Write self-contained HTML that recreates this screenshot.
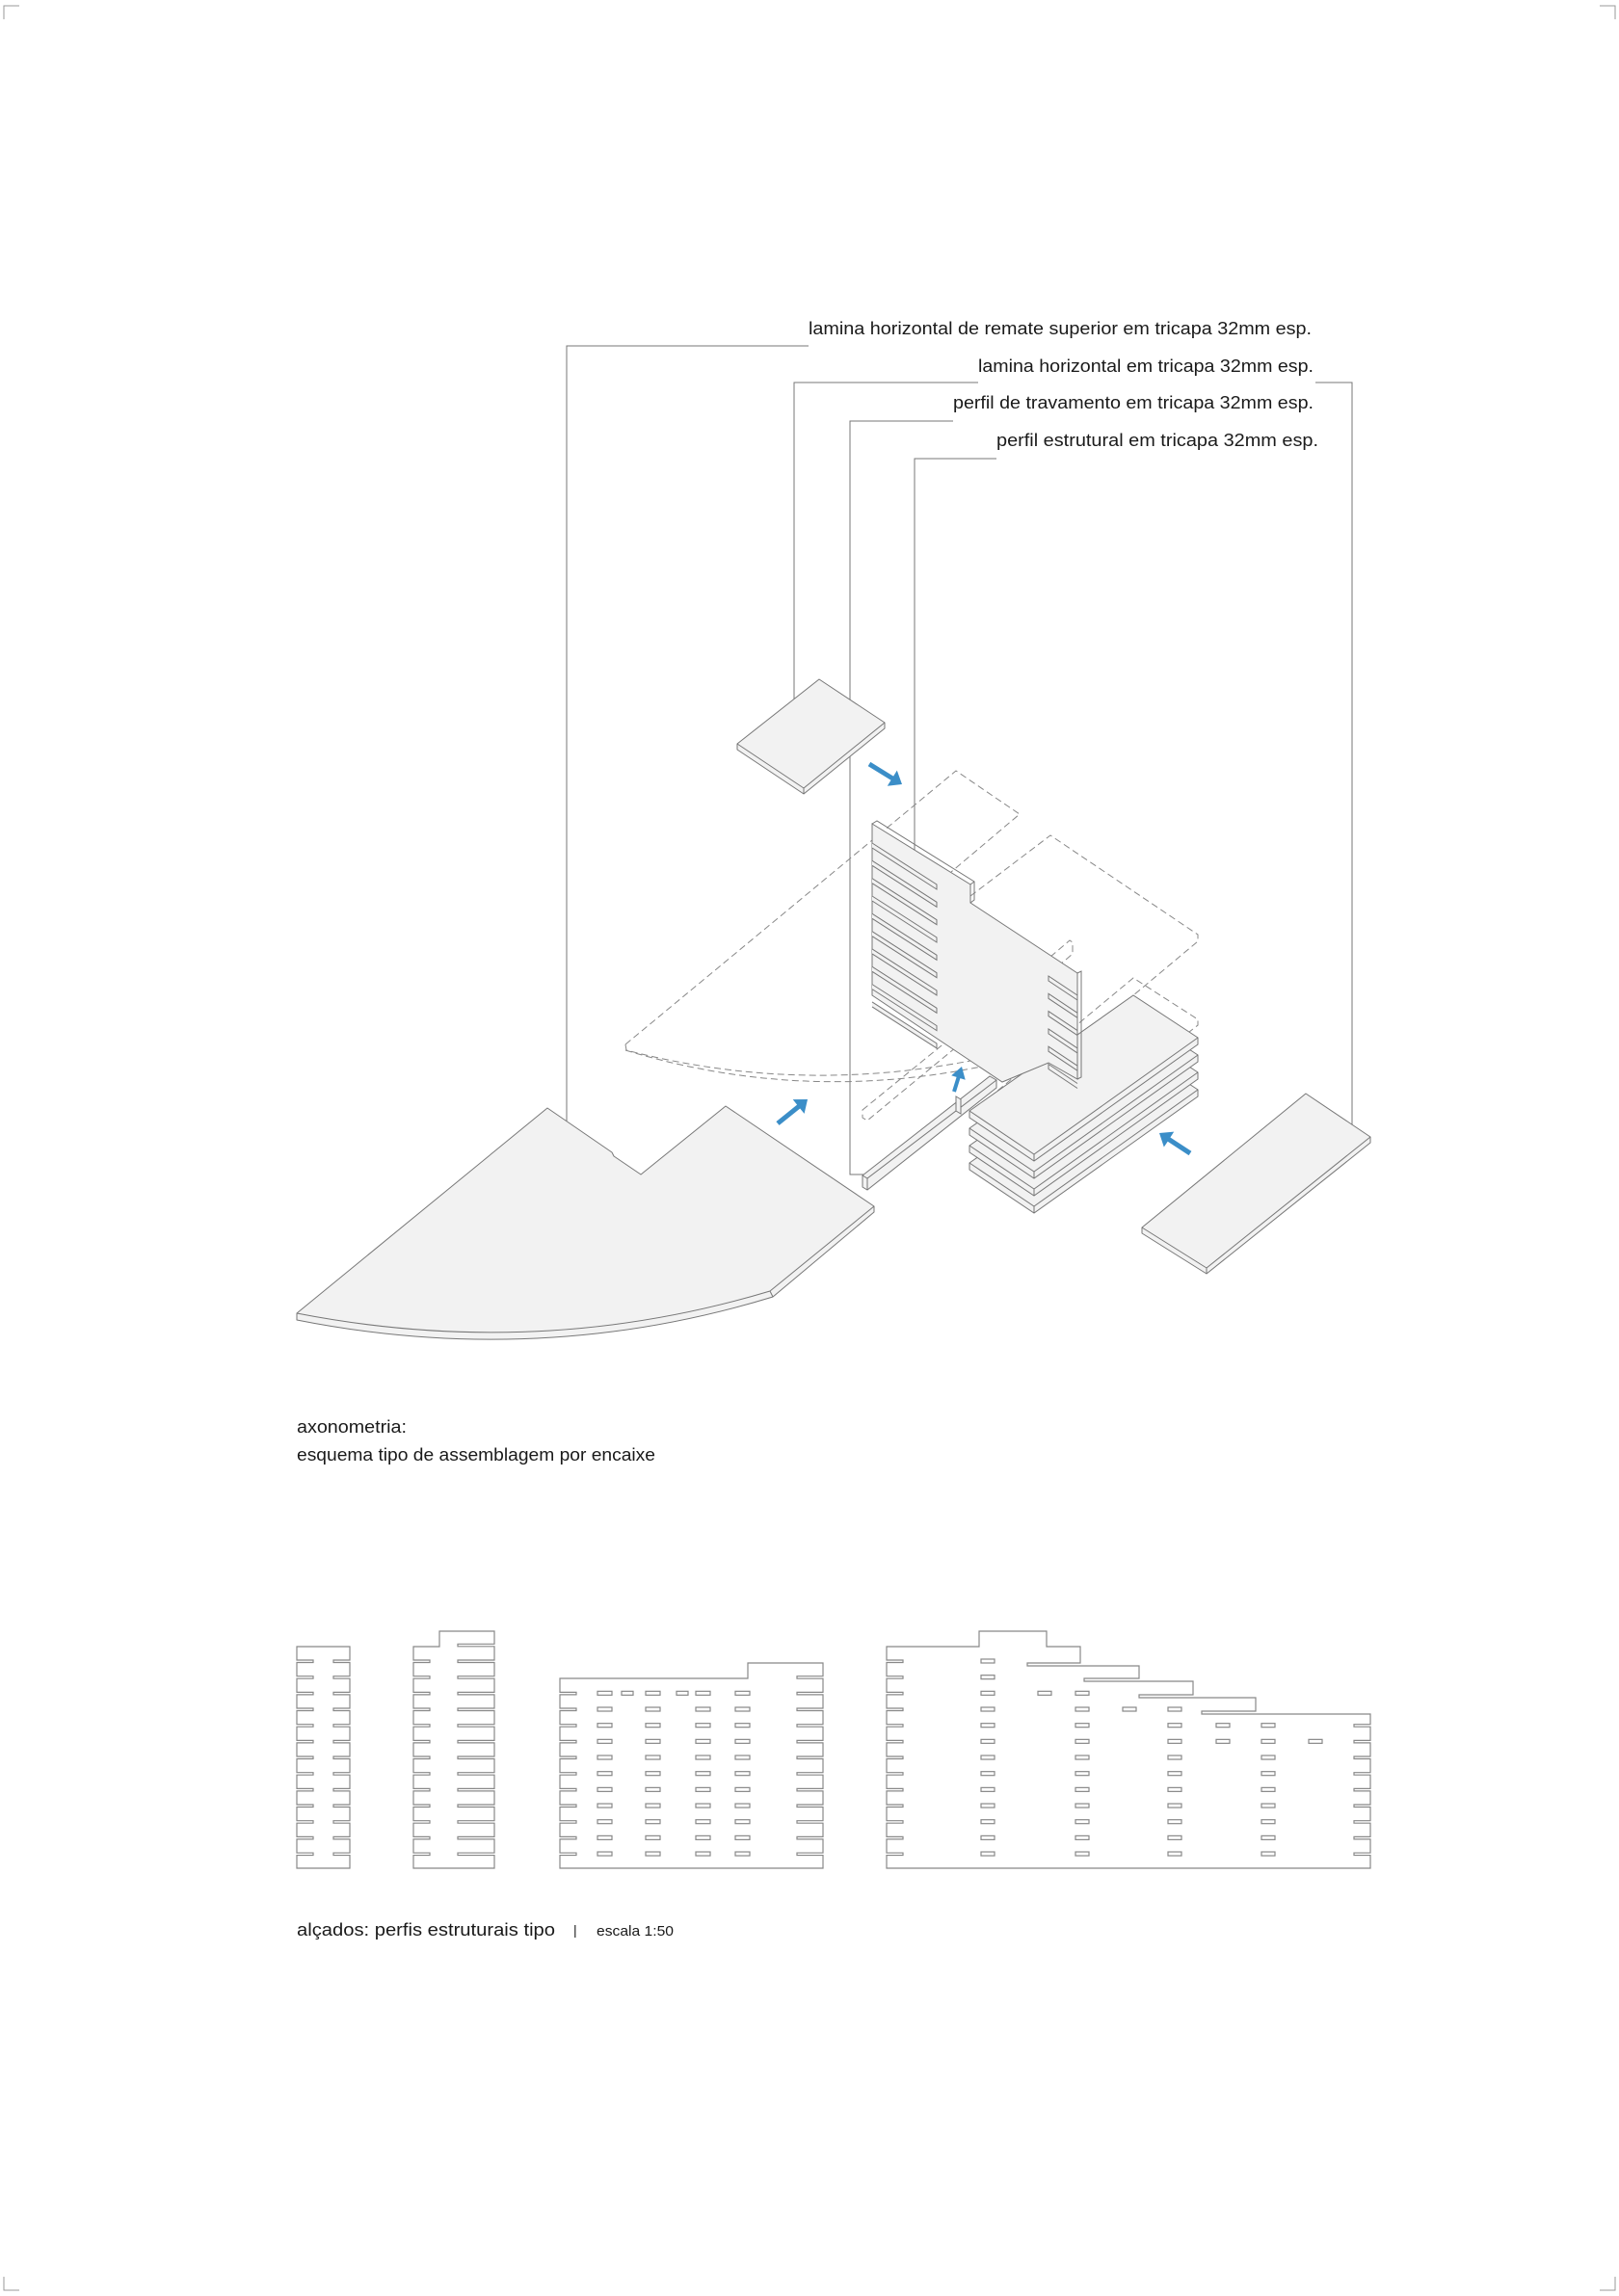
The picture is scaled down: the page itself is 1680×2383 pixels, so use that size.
<!DOCTYPE html>
<html><head><meta charset="utf-8"><style>
html,body{margin:0;padding:0;background:#fff}
svg{display:block}
text{font-family:"Liberation Sans",sans-serif;fill:#1a1a1a}
</style></head><body>
<svg id="s" width="1680" height="2383" viewBox="0 0 1680 2383" xmlns="http://www.w3.org/2000/svg">
<g stroke="#999" stroke-width="1" fill="none">
<path d="M4 20V6H20"/><path d="M1660 6H1676V20"/><path d="M4 2363V2377H20"/><path d="M1660 2377H1676V2363"/>
</g>
<g font-size="18.5">
<text x="1361" y="347" text-anchor="end" textLength="522" lengthAdjust="spacingAndGlyphs">lamina horizontal de remate superior  em tricapa 32mm esp.</text>
<text x="1363" y="386" text-anchor="end" textLength="348" lengthAdjust="spacingAndGlyphs">lamina horizontal em tricapa 32mm esp.</text>
<text x="1363" y="424" text-anchor="end" textLength="374" lengthAdjust="spacingAndGlyphs">perfil de travamento em tricapa 32mm esp.</text>
<text x="1368" y="463" text-anchor="end" textLength="334" lengthAdjust="spacingAndGlyphs">perfil estrutural em tricapa 32mm esp.</text>
</g>
<g stroke="#777" stroke-width="1" fill="none">
<path d="M839 359H588V1187"/>
<path d="M1015 397H824V750"/>
<path d="M1365 397H1403V1180"/>
<path d="M989 437H882V1219H902"/>
<path d="M1034 476H949V891"/>
</g>
<g stroke="#888" stroke-width="1" fill="none" stroke-dasharray="7,4">
<path d="M649 1084L992 800L1058 845L987 905"/>
<path d="M649 1084L650 1090Q880 1150 1118 1072"/>
<path d="M649 1090Q880 1160 1118 1080"/>
<path d="M1007 930L1090 867L1243 970L1243 977L1120 1080"/>
<path d="M1010 1153L1176 1015L1243 1058L1243 1064L1073 1198"/>
<path d="M895 1152L987 1077L992 1080L992 1087L900 1163L895 1160Z"/>
<path d="M1090 993L1110 976L1113 978L1113 990L1092 1008"/>
</g>
<g id="solid" stroke="#777" stroke-width="1" fill="#f2f2f2" stroke-linejoin="round">
<path d="M765 772L850 705L918 750L918 756L834 824L765 778Z"/>
<path d="M765 772L834 818L918 750M834 818V824" fill="none"/>
<path d="M308 1363L568 1150L635 1196L637 1200L665 1219L753 1148L907 1252L907 1258L802 1346Q560 1420 308 1370Z"/>
<path d="M308 1363Q560 1412 799 1340L907 1252M799 1340L802 1346" fill="none"/>
<path d="M1185 1274L1355 1135L1422 1180L1422 1186L1252 1322L1185 1280Z"/>
<path d="M1185 1274L1252 1316L1422 1180M1252 1316V1322" fill="none"/>
</g>
<g id="slabs"></g>
<g id="panel"></g>
<g stroke="#777" stroke-width="1" fill="#f2f2f2">
<path d="M895 1220L1027 1117L1034 1121L1034 1129L900 1235L895 1232Z"/>
<path d="M895 1220L900 1223L1034 1121M900 1223V1235" fill="none"/>
<path d="M992 1138V1153L997 1156V1141Z"/>
</g>
<g fill="#3b8ec8" stroke="none" id="arrows"></g>
<g font-size="18.5">
<text x="308" y="1487" textLength="114" lengthAdjust="spacingAndGlyphs">axonometria:</text>
<text x="308" y="1516" textLength="372" lengthAdjust="spacingAndGlyphs">esquema tipo de assemblagem por encaixe</text>
<text x="308" y="2009" textLength="268" lengthAdjust="spacingAndGlyphs">alçados:  perfis estruturais tipo</text>
<text x="595" y="2008" font-size="14">|</text>
<text x="619" y="2009" font-size="15" textLength="80" lengthAdjust="spacingAndGlyphs">escala 1:50</text>
</g>
<g id="elev" stroke="#888" stroke-width="1.2" fill="none"></g>
</svg>
<script>
var NS="http://www.w3.org/2000/svg";
function el(p,t,a){var e=document.createElementNS(NS,t);for(var k in a)e.setAttribute(k,a[k]);p.appendChild(e);return e;}
var sl=document.getElementById('slabs');
for(var i=3;i>=0;i--){var o=i*18;
 var d="M1006 "+(1153+o)+"L1176 "+(1033+o)+"L1243 "+(1077+o)+"L1243 "+(1084+o)+"L1073 "+(1205+o)+"L1006 "+(1160+o)+"Z";
 el(sl,'path',{d:d,stroke:'#777',fill:'#f2f2f2'});
 el(sl,'path',{d:"M1006 "+(1153+o)+"L1073 "+(1198+o)+"L1243 "+(1077+o)+"M1073 "+(1198+o)+"V"+(1205+o),stroke:'#777',fill:'none'});
}
var pn=document.getElementById('panel');
el(pn,'path',{d:"M905 855L1007 918L1007 937L1118 1010L1118 1120L1088 1103L1040 1123L905 1033Z",stroke:'#777',fill:'#f2f2f2'});
el(pn,'path',{d:"M905 855L910 852L1011 915L1011 934L1007 937M1007 918L1011 915M1118 1010L1122 1008L1122 1118L1118 1120",stroke:'#777',fill:'none'});
for(var k=0;k<10;k++){var y=875+18.33*k;
 el(pn,'path',{d:"M905 "+y+"L972 "+(y+43)+"L972 "+(y+48)+"L905 "+(y+5),stroke:'#777',fill:'#f2f2f2'});}
for(var k=0;k<6;k++){var y=1013+18.3*k;
 el(pn,'path',{d:"M1118 "+(y+20)+"L1088 "+y+"L1088 "+(y+5)+"L1118 "+(y+25),stroke:'#777',fill:'none'});}
var ar=document.getElementById('arrows');
function arrow(x1,y1,x2,y2,w){var dx=x2-x1,dy=y2-y1,L=Math.hypot(dx,dy),ux=dx/L,uy=dy/L,px=-uy,py=ux,h=12,hw=w*1.9;
 var bx=x2-ux*h,by=y2-uy*h;
 var pts=[[x1+px*w/2,y1+py*w/2],[bx+px*w/2,by+py*w/2],[bx+px*hw,by+py*hw],[x2,y2],[bx-px*hw,by-py*hw],[bx-px*w/2,by-py*w/2],[x1-px*w/2,y1-py*w/2]];
 el(ar,'polygon',{points:pts.map(function(p){return p[0].toFixed(1)+","+p[1].toFixed(1)}).join(" ")});}
arrow(902,793,936,814,5);
arrow(807,1166,838,1141,5);
arrow(990,1133,998,1107,4);
arrow(1235,1197,1203,1176,5);
var ev=document.getElementById('elev');
var R=16.67, N0=1723;
function outline(x0,x1,tops,nrows,lw,rw){
 var d="M"+x0+" 1939";
 var ys=[];for(var i=nrows-1;i>=0;i--)ys.push(N0+R*i);
 ys.forEach(function(y){d+="L"+x0+" "+(y+2.5)+"L"+(x0+lw)+" "+(y+2.5)+"L"+(x0+lw)+" "+y+"L"+x0+" "+y;});
 d+="L"+x0+" "+tops[0][1];
 for(var i=1;i<tops.length;i++){d+="L"+tops[i][0]+" "+tops[i-1][1]+"L"+tops[i][0]+" "+tops[i][1];}
 d+="L"+x1+" "+tops[tops.length-1][1];
 var ys2=[];for(var i=0;i<nrows;i++)ys2.push(N0+R*i);
 ys2.forEach(function(y){d+="L"+x1+" "+y+"L"+(x1-rw)+" "+y+"L"+(x1-rw)+" "+(y+2.5)+"L"+x1+" "+(y+2.5);});
 d+="L"+x1+" 1939Z";
 el(ev,'path',{d:d});
}
outline(308,363,[[308,1709]],13,17,17);
(function(){var x0=429,x1=513,d="M"+x0+" 1939";
 for(var i=12;i>=0;i--){var y=N0+R*i;d+="L"+x0+" "+(y+2.5)+"L"+(x0+17)+" "+(y+2.5)+"L"+(x0+17)+" "+y+"L"+x0+" "+y;}
 d+="L429 1709L456 1709L456 1693L513 1693";
 for(var i=-1;i<13;i++){var y=N0+R*i;d+="L"+x1+" "+y+"L475 "+y+"L475 "+(y+2.5)+"L"+x1+" "+(y+2.5);}
 d+="L513 1939Z";el(ev,'path',{d:d});})();
(function(){var x0=581,x1=854,d="M"+x0+" 1939";
 for(var i=12;i>=2;i--){var y=N0+R*i;d+="L"+x0+" "+(y+2.5)+"L"+(x0+17)+" "+(y+2.5)+"L"+(x0+17)+" "+y+"L"+x0+" "+y;}
 d+="L581 1742L776 1742L776 1726L854 1726";
 for(var i=1;i<13;i++){var y=N0+R*i;d+="L"+x1+" "+y+"L"+(x1-27)+" "+y+"L"+(x1-27)+" "+(y+2.5)+"L"+x1+" "+(y+2.5);}
 d+="L854 1939Z";el(ev,'path',{d:d});
 var xs=[620,670,722,763];
 for(var i=2;i<13;i++){var y=N0+R*i;xs.forEach(function(x){el(ev,'rect',{x:x,y:y-1,width:15,height:4});});}
 [645,702].forEach(function(x){el(ev,'rect',{x:x,y:N0+R*2-1,width:12,height:4});});})();
(function(){var x0=920,x1=1422,d="M"+x0+" 1939";
 for(var i=12;i>=0;i--){var y=N0+R*i;d+="L"+x0+" "+(y+2.5)+"L"+(x0+17)+" "+(y+2.5)+"L"+(x0+17)+" "+y+"L"+x0+" "+y;}
 d+="L920 1709L1016 1709L1016 1693L1086 1693L1086 1709L1121 1709L1121 1726L1066 1726L1066 1729L1182 1729L1182 1742L1125 1742L1125 1745L1238 1745L1238 1759L1182 1759L1182 1762L1303 1762L1303 1776L1247 1776L1247 1779L1422 1779";
 for(var i=4;i<13;i++){var y=N0+R*i;d+="L"+x1+" "+y+"L"+(x1-17)+" "+y+"L"+(x1-17)+" "+(y+2.5)+"L"+x1+" "+(y+2.5);}
 d+="L1422 1939Z";el(ev,'path',{d:d});
 for(var i=0;i<13;i++){var y=N0+R*i;
  el(ev,'rect',{x:1018,y:y-1,width:14,height:4});
  if(i>=2)el(ev,'rect',{x:1116,y:y-1,width:14,height:4});
  if(i>=3)el(ev,'rect',{x:1212,y:y-1,width:14,height:4});
  if(i>=4)el(ev,'rect',{x:1309,y:y-1,width:14,height:4});}
 el(ev,'rect',{x:1077,y:N0+R*2-1,width:14,height:4});
 el(ev,'rect',{x:1165,y:N0+R*3-1,width:14,height:4});
 el(ev,'rect',{x:1262,y:N0+R*4-1,width:14,height:4});
 el(ev,'rect',{x:1262,y:N0+R*5-1,width:14,height:4});
 el(ev,'rect',{x:1358,y:N0+R*5-1,width:14,height:4});})();
</script>
</body></html>
